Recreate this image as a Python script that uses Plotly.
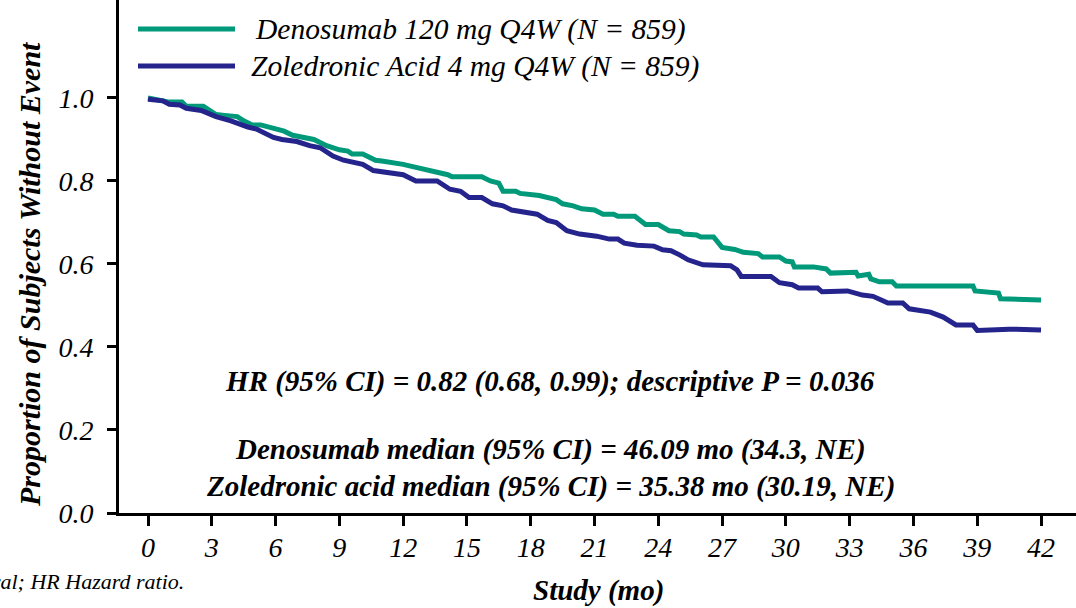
import plotly.graph_objects as go

# ---------------- data ----------------
series_names = ["Denosumab 120 mg Q4W (N = 859)", "Zoledronic Acid 4 mg Q4W (N = 859)"]
series_colors = ["#00997a", "#24248c"]

deno_months = [0, 0.7, 1.0, 1.6, 1.8, 2.6, 3.2, 3.6, 3.9, 4.2, 4.5, 4.9, 5.3, 6.4, 6.8, 7.4, 7.8,
               8.4, 9.0, 9.4, 9.6, 10.1, 10.7, 11.0, 11.5, 12.0, 12.4, 12.9, 13.2, 13.8, 14.1,
               14.3, 15.7, 16.1, 16.5, 16.7, 17.3, 17.5, 18.4, 19.2, 19.5, 20.0, 20.4, 21.0,
               21.4, 21.9, 22.1, 22.9, 23.2, 23.4, 24.0, 24.5, 25.0, 25.2, 25.8, 26.0, 26.6,
               27.0, 27.6, 28.0, 28.7, 28.9, 29.7, 30.0, 30.3, 30.4, 31.3, 31.9, 32.1, 33.3,
               33.4, 33.9, 34.0, 34.4, 35.0, 35.2, 38.8, 38.9, 40.0, 40.1, 42.0]
deno_surv = [1.0, 0.995, 0.99, 0.99, 0.98, 0.98, 0.96, 0.958, 0.955, 0.955, 0.945, 0.935, 0.935,
             0.92, 0.91, 0.905, 0.90, 0.885, 0.875, 0.872, 0.865, 0.865, 0.85, 0.848, 0.845,
             0.84, 0.835, 0.83, 0.825, 0.82, 0.815, 0.81, 0.81, 0.80, 0.795, 0.775, 0.775,
             0.77, 0.765, 0.755, 0.745, 0.74, 0.733, 0.73, 0.72, 0.72, 0.715, 0.715, 0.705,
             0.695, 0.695, 0.68, 0.678, 0.672, 0.67, 0.665, 0.665, 0.64, 0.635, 0.628, 0.625,
             0.617, 0.617, 0.607, 0.605, 0.593, 0.593, 0.588, 0.578, 0.58, 0.571, 0.575,
             0.564, 0.557, 0.557, 0.547, 0.547, 0.535, 0.53, 0.516, 0.513]

zol_months = [0, 0.7, 1.0, 1.5, 1.8, 2.5, 3.2, 3.9, 4.7, 5.1, 5.9, 6.3, 7.0, 7.6, 8.1, 8.7, 9.2,
              10.0, 10.1, 10.6, 11.4, 12.0, 12.6, 13.6, 14.2, 14.7, 15.1, 15.7, 16.2, 16.7,
              17.1, 17.6, 18.0, 18.3, 18.8, 19.2, 19.7, 20.3, 21.1, 21.7, 22.1, 22.4, 23.0,
              23.8, 24.2, 24.6, 25.0, 25.4, 26.1, 26.9, 27.4, 27.7, 27.9, 29.3, 29.7, 30.3,
              30.6, 31.5, 31.7, 32.9, 33.6, 34.1, 34.8, 35.5, 35.8, 36.8, 37.4, 38.0, 38.8,
              39.0, 40.5, 42.0]
zol_surv = [0.997, 0.993, 0.985, 0.983, 0.975, 0.97, 0.955, 0.945, 0.93, 0.925, 0.905, 0.90,
            0.895, 0.885, 0.88, 0.86, 0.85, 0.842, 0.84, 0.825, 0.82, 0.815, 0.80, 0.80, 0.78,
            0.775, 0.76, 0.76, 0.745, 0.74, 0.73, 0.725, 0.72, 0.72, 0.705, 0.70, 0.68, 0.672,
            0.667, 0.66, 0.66, 0.65, 0.645, 0.643, 0.634, 0.632, 0.622, 0.61, 0.598, 0.596,
            0.596, 0.586, 0.57, 0.57, 0.555, 0.55, 0.542, 0.542, 0.533, 0.535, 0.525, 0.522,
            0.506, 0.506, 0.492, 0.484, 0.472, 0.453, 0.453, 0.44, 0.443, 0.441]

x_ticks = [0, 3, 6, 9, 12, 15, 18, 21, 24, 27, 30, 33, 36, 39, 42]
y_ticks = [0.0, 0.2, 0.4, 0.6, 0.8, 1.0]
y_tick_labels = ["0.0", "0.2", "0.4", "0.6", "0.8", "1.0"]

hr_text = "HR (95% CI) = 0.82 (0.68, 0.99); descriptive P = 0.036"
median_texts = ["Denosumab median (95% CI) = 46.09 mo (34.3, NE)",
                "Zoledronic acid median (95% CI) = 35.38 mo (30.19, NE)"]
footnote = "CI Confidence interval; HR Hazard ratio."
x_title = "Study (mo)"
y_title = "Proportion of Subjects Without Event"

# ---------------- figure ----------------
FONT = "Liberation Serif, Times New Roman, serif"
fig = go.Figure()
for xs, ys, name, col in [(deno_months, deno_surv, series_names[0], series_colors[0]),
                          (zol_months, zol_surv, series_names[1], series_colors[1])]:
    fig.add_trace(go.Scatter(x=xs, y=ys, mode="lines", name=name,
                             line=dict(color=col, width=5), showlegend=False))

W, H = 1076, 608
L, B = 119, 95
pw, ph = W - L, H - B

def px(xp):
    return (xp - L) / pw

def py(yp):
    return (H - B - yp) / ph

fig.update_layout(
    width=W, height=H,
    margin=dict(l=L, r=0, t=0, b=B),
    paper_bgcolor="white", plot_bgcolor="white",
    font=dict(family=FONT, color="black"),
    xaxis=dict(range=[-1.364, 43.646], tickvals=x_ticks, showgrid=False, zeroline=False,
               showline=True, linecolor="black", linewidth=3,
               ticks="outside", ticklen=10, tickwidth=3, tickcolor="black",
               tickfont=dict(family=FONT, size=28, style="italic"), ticklabelstandoff=-3),
    yaxis=dict(range=[0, 1.236], tickvals=y_ticks, ticktext=y_tick_labels, showgrid=False,
               zeroline=False, showline=True, linecolor="black", linewidth=3,
               ticks="outside", ticklen=9, tickwidth=3, tickcolor="black",
               tickfont=dict(family=FONT, size=28, style="italic"), ticklabelstandoff=8),
)

anns = []
bold_it = dict(family=FONT, size=29, color="black", style="italic", weight="bold")
anns.append(dict(text=hr_text, x=px(550), y=py(381), xref="paper", yref="paper",
                 showarrow=False, xanchor="center", yanchor="middle", font=bold_it))
anns.append(dict(text=median_texts[0], x=px(550), y=py(449), xref="paper", yref="paper",
                 showarrow=False, xanchor="center", yanchor="middle", font=bold_it))
anns.append(dict(text=median_texts[1], x=px(550), y=py(486), xref="paper", yref="paper",
                 showarrow=False, xanchor="center", yanchor="middle", font=bold_it))
anns.append(dict(text=x_title, x=px(598), y=py(590), xref="paper", yref="paper",
                 showarrow=False, xanchor="center", yanchor="middle", font=bold_it))
anns.append(dict(text=y_title, x=px(29), y=py(274), xref="paper", yref="paper",
                 showarrow=False, xanchor="center", yanchor="middle", textangle=-90,
                 font=dict(family=FONT, size=30, color="black", style="italic",
                           weight="bold")))
anns.append(dict(text=footnote, x=px(186), y=py(581), xref="paper", yref="paper",
                 showarrow=False, xanchor="right", yanchor="middle",
                 font=dict(family=FONT, size=22, color="black", style="italic")))

# custom legend
leg_y = [29, 66]
leg_text_x = [253, 249]
shapes = []
for i in range(2):
    shapes.append(dict(type="line", xref="paper", yref="paper",
                       x0=px(138), x1=px(235), y0=py(leg_y[i]), y1=py(leg_y[i]),
                       line=dict(color=series_colors[i], width=5)))
    anns.append(dict(text=series_names[i], x=px(leg_text_x[i]), y=py(leg_y[i]),
                     xref="paper", yref="paper", showarrow=False, xanchor="left",
                     yanchor="middle",
                     font=dict(family=FONT, size=29.5, color="black", style="italic")))

fig.update_layout(annotations=anns, shapes=shapes)
fig.write_html("out.html")
